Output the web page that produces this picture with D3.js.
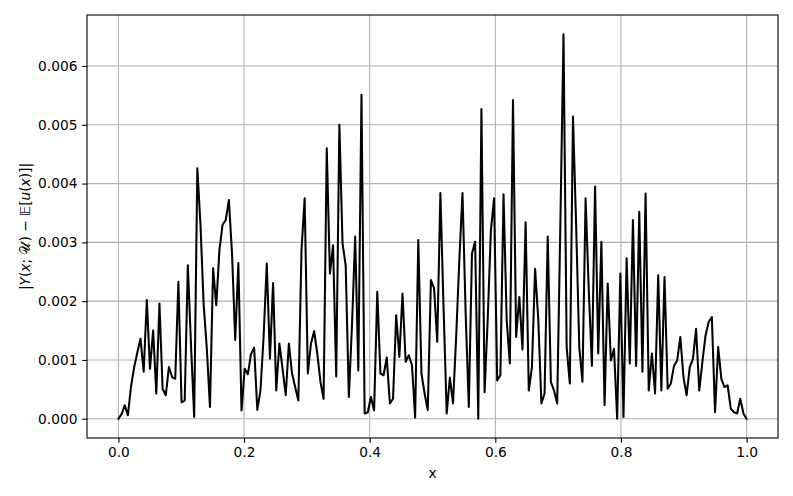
<!DOCTYPE html>
<html>
<head>
<meta charset="utf-8">
<script src="https://cdn.jsdelivr.net/npm/d3@7"></script>
<style>
  body { margin: 0; background: #fff; }
  text { font-family: "DejaVu Sans", sans-serif; }
</style>
</head>
<body>
<svg id="chart" width="793" height="496"></svg>
<script>
// tick values on both axes
const xTicks = [0.0, 0.2, 0.4, 0.6, 0.8, 1.0];
const yTicks = [0.000, 0.001, 0.002, 0.003, 0.004, 0.005, 0.006];

// |Y(x;U) - E[u(x)]|, 200 samples over [0, 1]
const errValues = [
  0.00000, 0.00008, 0.00023, 0.00006, 0.00055, 0.00088, 0.00113, 0.00136, 0.00080, 0.00202,
  0.00085, 0.00150, 0.00043, 0.00196, 0.00051, 0.00040, 0.00088, 0.00071, 0.00068, 0.00233,
  0.00028, 0.00031, 0.00261, 0.00125, 0.00003, 0.00426, 0.00330, 0.00195, 0.00120, 0.00020,
  0.00256, 0.00193, 0.00287, 0.00330, 0.00338, 0.00372, 0.00280, 0.00134, 0.00265, 0.00014,
  0.00085, 0.00076, 0.00110, 0.00121, 0.00015, 0.00048, 0.00140, 0.00264, 0.00102, 0.00231,
  0.00048, 0.00128, 0.00085, 0.00040, 0.00128, 0.00077, 0.00054, 0.00031, 0.00287, 0.00375,
  0.00077, 0.00128, 0.00149, 0.00111, 0.00063, 0.00034, 0.00460, 0.00247, 0.00295, 0.00072,
  0.00500, 0.00298, 0.00261, 0.00037, 0.00160, 0.00310, 0.00082, 0.00551, 0.00009, 0.00011,
  0.00037, 0.00014, 0.00216, 0.00077, 0.00074, 0.00104, 0.00026, 0.00034, 0.00176, 0.00105,
  0.00213, 0.00097, 0.00108, 0.00091, 0.00002, 0.00304, 0.00077, 0.00043, 0.00015, 0.00236,
  0.00222, 0.00131, 0.00384, 0.00190, 0.00009, 0.00070, 0.00026, 0.00140, 0.00270, 0.00384,
  0.00180, 0.00020, 0.00281, 0.00301, 0.00000, 0.00527, 0.00045, 0.00170, 0.00321, 0.00375,
  0.00065, 0.00074, 0.00382, 0.00168, 0.00094, 0.00542, 0.00139, 0.00207, 0.00118, 0.00334,
  0.00048, 0.00088, 0.00255, 0.00170, 0.00026, 0.00043, 0.00310, 0.00063, 0.00048, 0.00026,
  0.00330, 0.00654, 0.00122, 0.00060, 0.00514, 0.00330, 0.00122, 0.00063, 0.00375, 0.00220,
  0.00090, 0.00395, 0.00111, 0.00301, 0.00023, 0.00230, 0.00099, 0.00119, 0.00000, 0.00247,
  0.00003, 0.00273, 0.00094, 0.00338, 0.00090, 0.00352, 0.00080, 0.00383, 0.00048, 0.00111,
  0.00043, 0.00244, 0.00048, 0.00241, 0.00051, 0.00060, 0.00090, 0.00099, 0.00139, 0.00071,
  0.00040, 0.00088, 0.00102, 0.00153, 0.00048, 0.00097, 0.00142, 0.00165, 0.00173, 0.00011,
  0.00122, 0.00068, 0.00054, 0.00057, 0.00017, 0.00011, 0.00009, 0.00034, 0.00009, 0.00000
];

// sample grid, like np.linspace(0, 1, 200)
const xValues = d3.range(errValues.length).map(i => i / (errValues.length - 1));
const points = xValues.map((x, i) => ({ x: x, y: errValues[i] }));

const svg = d3.select('#chart');
const plot = { left: 87, right: 778, top: 15, bottom: 438 };

let x = d3.scaleLinear()
  .domain([-0.05, 1.05])
  .range([plot.left, plot.right]);

let ext = d3.extent(errValues);
let pad = (ext[1] - ext[0]) * 0.05;
let y = d3.scaleLinear()
  .domain([ext[0] - pad, ext[1] + pad])
  .range([plot.bottom, plot.top]);

// grid
let grid = svg.append('g');
grid.selectAll('line.vx')
  .data(xTicks)
  .enter()
  .append('line')
    .attr('x1', d => x(d)).attr('x2', d => x(d))
    .attr('y1', plot.top).attr('y2', plot.bottom)
    .attr('stroke', '#b0b0b0')
    .attr('stroke-width', 1.1);
grid.selectAll('line.hy')
  .data(yTicks)
  .enter()
  .append('line')
    .attr('x1', plot.left).attr('x2', plot.right)
    .attr('y1', d => y(d)).attr('y2', d => y(d))
    .attr('stroke', '#b0b0b0')
    .attr('stroke-width', 1.1);

// the curve
let line = d3.line()
  .x(d => x(d.x))
  .y(d => y(d.y));

svg.append('path')
  .datum(points)
  .attr('d', line)
  .attr('fill', 'none')
  .attr('stroke', '#000')
  .attr('stroke-width', 2.05)
  .attr('stroke-linejoin', 'round')
  .attr('stroke-linecap', 'square');

// frame
svg.append('rect')
  .attr('x', plot.left).attr('y', plot.top)
  .attr('width', plot.right - plot.left)
  .attr('height', plot.bottom - plot.top)
  .attr('fill', 'none')
  .attr('stroke', '#000')
  .attr('stroke-width', 1.1);

// axes
let xAxis = svg.append('g')
  .attr('transform', `translate(0,${plot.bottom})`)
  .call(d3.axisBottom(x).tickValues(xTicks).tickFormat(d3.format('.1f')).tickSize(4.8).tickPadding(4.8));

let yAxis = svg.append('g')
  .attr('transform', `translate(${plot.left},0)`)
  .call(d3.axisLeft(y).tickValues(yTicks).tickFormat(d3.format('.3f')).tickSize(4.8).tickPadding(4.8));

[xAxis, yAxis].forEach(ax => {
  ax.select('.domain').remove();
  ax.selectAll('.tick line').attr('stroke', '#000').attr('stroke-width', 1.1);
  ax.selectAll('.tick text')
    .attr('fill', '#000')
    .style('font-size', '13.75px')
    .style('font-family', '"DejaVu Sans", sans-serif');
});

// axis labels
svg.append('text')
  .attr('x', (plot.left + plot.right) / 2)
  .attr('y', 478)
  .attr('text-anchor', 'middle')
  .style('font-size', '13.75px')
  .text('x');

let ylab = svg.append('text')
  .attr('transform', `translate(30,${(plot.top + plot.bottom) / 2}) rotate(-90)`)
  .attr('text-anchor', 'middle')
  .style('font-size', '13.75px');

ylab.append('tspan').text('|');
ylab.append('tspan').attr('font-style', 'italic').text('Y');
ylab.append('tspan').text('(');
ylab.append('tspan').attr('font-style', 'italic').text('x');
ylab.append('tspan').text('; 𝒰) − 𝔼[');
ylab.append('tspan').attr('font-style', 'italic').text('u');
ylab.append('tspan').text('(');
ylab.append('tspan').attr('font-style', 'italic').text('x');
ylab.append('tspan').text(')]|');
</script>
</body>
</html>
